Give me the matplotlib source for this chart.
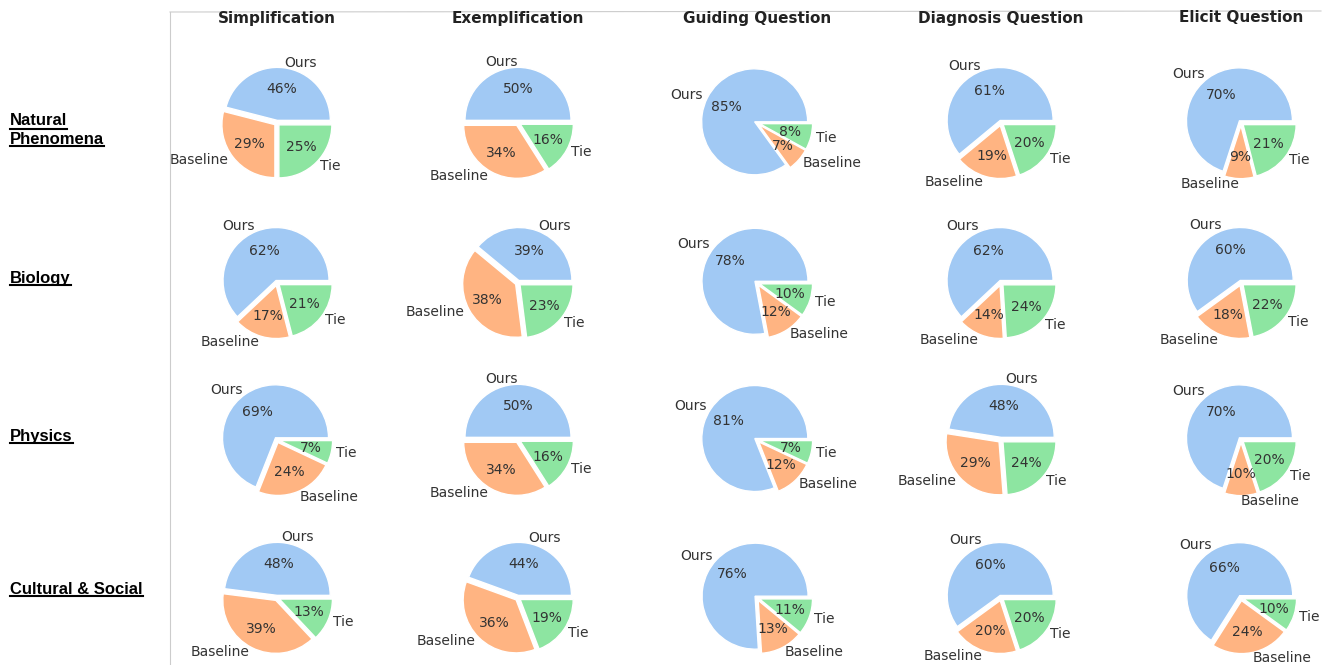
"""
Pie grid: Ours vs Baseline vs Tie per topic and question type
"""

import matplotlib.pyplot as plt
from matplotlib.lines import Line2D

W, H = 1325, 665

question_types = ["Simplification", "Exemplification", "Guiding Question",
                  "Diagnosis Question", "Elicit Question"]
topics = ["Natural\nPhenomena", "Biology", "Physics", "Cultural & Social"]
labels = ["Ours", "Baseline", "Tie"]

natural_phenomena = [[46, 29, 25], [50, 34, 16], [85, 7, 8], [61, 19, 20], [70, 9, 21]]
biology = [[62, 17, 21], [39, 38, 23], [78, 12, 10], [62, 14, 24], [60, 18, 22]]
physics = [[69, 24, 7], [50, 34, 16], [81, 12, 7], [48, 29, 24], [70, 10, 20]]
cultural_social = [[48, 39, 13], [44, 36, 19], [76, 13, 11], [60, 20, 20], [66, 24, 10]]
results = [natural_phenomena, biology, physics, cultural_social]

colors = ['#a1c9f4', '#ffb482', '#8de5a1']
text_color = '#333333'

col_x = [277, 518, 757, 1001, 1241]
row_y = [123, 283, 440, 598]
radius_px = 53


def px_axes(fig, cx, cy, half):
    return fig.add_axes([(cx - half) / W, 1 - (cy + half) / H, 2 * half / W, 2 * half / H])


def main():
    fig = plt.figure(figsize=(W / 100, H / 100), dpi=100)

    half = 1.25 * radius_px
    for r, row in enumerate(results):
        for c, vals in enumerate(row):
            ax = px_axes(fig, col_x[c], row_y[r], half)
            wedges, texts, autotexts = ax.pie(
                vals, labels=labels, colors=colors, autopct='%1.0f%%',
                explode=[0.05, 0.05, 0.05], startangle=0,
                wedgeprops={'edgecolor': 'white', 'linewidth': 1},
                textprops={'fontsize': 10, 'color': text_color})
            ax.set_xlim(-1.25, 1.25)
            ax.set_ylim(-1.25, 1.25)

    # column titles
    for c, title in enumerate(question_types):
        fig.text(col_x[c] / W, 1 - 18 / H, title, ha='center', va='center',
                 fontsize=11, fontweight='bold', color='#222222')

    # row labels, underlined
    label_y = [130, 278, 436, 589]
    fig.canvas.draw()
    renderer = fig.canvas.get_renderer()
    for r, name in enumerate(topics):
        t = fig.text(10 / W, 1 - label_y[r] / H, name, ha='left', va='center',
                     fontsize=12, fontweight='bold', family='Liberation Sans',
                     color='black', linespacing=1.3)
        fig.canvas.draw()
        bb = t.get_window_extent(renderer)
        lines = name.split("\n")
        n = len(lines)
        line_h = bb.height / n
        for i, part in enumerate(lines):
            tmp = fig.text(bb.x0 / W, 0, part, fontsize=12, fontweight='bold',
                           family='Liberation Sans')
            wpx = tmp.get_window_extent(renderer).width
            tmp.remove()
            ybase = bb.y1 - (i + 1) * line_h + 1
            fig.add_artist(Line2D([bb.x0 / W, (bb.x0 + wpx) / W],
                                  [ybase / H, ybase / H],
                                  color='black', linewidth=1.5))

    # light frame edges of the grid
    fig.add_artist(Line2D([170 / W, 170 / W], [0, 1 - 12 / H], color='#cccccc', linewidth=0.8))
    fig.add_artist(Line2D([170 / W, 1 - 4 / W], [1 - 12 / H, 1 - 11 / H], color='#cccccc', linewidth=0.8))

    fig.savefig("out.png", dpi=100)


if __name__ == '__main__':
    main()
